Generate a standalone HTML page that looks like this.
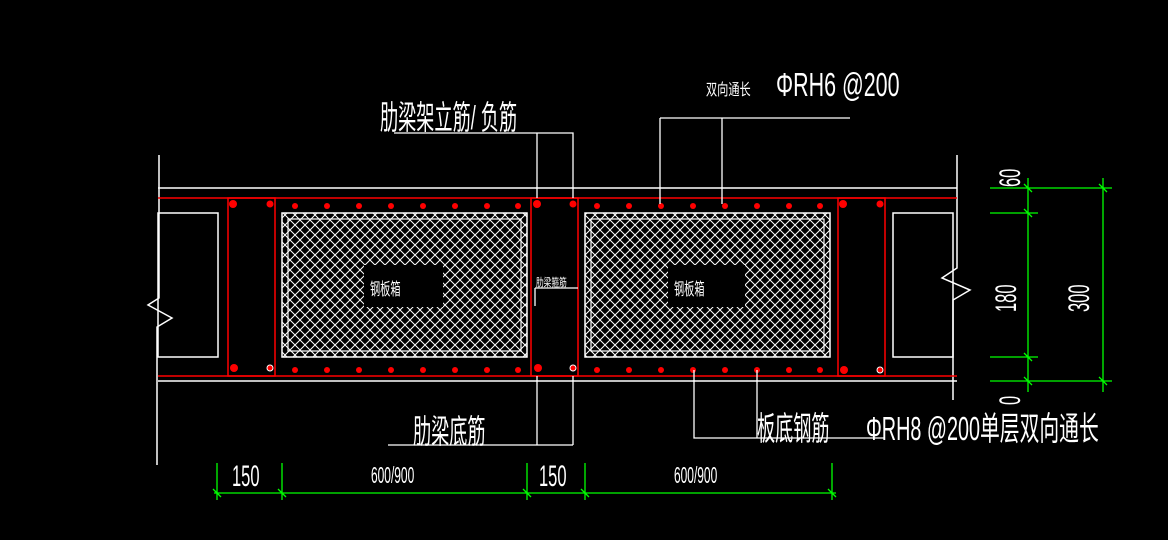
<!DOCTYPE html>
<html><head><meta charset="utf-8"><style>
html,body{margin:0;padding:0;background:#000;}
svg{display:block}
text{font-family:"Liberation Sans","Noto Sans CJK SC",sans-serif;fill:#fff;}
</style></head><body>
<svg width="1168" height="540" viewBox="0 0 1168 540" xmlns="http://www.w3.org/2000/svg">
<defs>
<pattern id="hx" width="10" height="10" patternUnits="userSpaceOnUse">
<path d="M0 0L10 10M10 0L0 10" stroke="#fff" stroke-width="1"/>
</pattern>
</defs>
<rect width="1168" height="540" fill="#000"/>
<g stroke="#fff" stroke-width="1.5" fill="none">
<line x1="158" y1="188" x2="957" y2="188"/>
<line x1="158" y1="381" x2="957" y2="381"/>
<path d="M159 155 V298 L148 305 L172 318 L157 327 V465"/>
<path d="M957 155 V268 L942 278 L970 290 L953 300 V400"/>
<rect x="158" y="213" width="60" height="144"/>
<rect x="893" y="213" width="60" height="144"/>
</g>
<g stroke="#f00" stroke-width="1.5" fill="none">
<line x1="158" y1="198" x2="957" y2="198"/>
<line x1="158" y1="376" x2="957" y2="376"/>
<rect x="228" y="198" width="47" height="178"/>
<rect x="531" y="198" width="47" height="178"/>
<rect x="838" y="198" width="47" height="178"/>
</g>
<g>
<rect x="282" y="213" width="245" height="144" fill="url(#hx)" stroke="#fff" stroke-width="1.5"/>
<rect x="288" y="219" width="233" height="132" fill="none" stroke="#fff" stroke-width="1.2"/>
<rect x="364" y="265" width="79" height="42" fill="#000"/>
<rect x="585" y="213" width="245" height="144" fill="url(#hx)" stroke="#fff" stroke-width="1.5"/>
<rect x="591" y="219" width="233" height="132" fill="none" stroke="#fff" stroke-width="1.2"/>
<rect x="668" y="265" width="77" height="42" fill="#000"/>
<text x="370" y="295" font-size="17" transform="translate(370 0) scale(0.6 1) translate(-370 0)">钢板箱</text>
<text x="674" y="295" font-size="17" transform="translate(674 0) scale(0.6 1) translate(-674 0)">钢板箱</text>
</g>
<g fill="#f00">
<circle cx="233" cy="204" r="4"/><circle cx="270" cy="204" r="3.5"/>
<circle cx="234" cy="368" r="4"/><circle cx="270" cy="368" r="3" stroke="#fff" stroke-width="1"/>
<circle cx="537" cy="204" r="4"/><circle cx="573" cy="204" r="3.5"/>
<circle cx="538" cy="368" r="4"/><circle cx="573" cy="368" r="3" stroke="#fff" stroke-width="1"/>
<circle cx="843" cy="204" r="4"/><circle cx="880" cy="204" r="3.5"/>
<circle cx="844" cy="370" r="4"/><circle cx="880" cy="370" r="3" stroke="#fff" stroke-width="1"/>
<circle cx="295" cy="206" r="3"/><circle cx="327" cy="206" r="3"/><circle cx="359" cy="206" r="3"/><circle cx="391" cy="206" r="3"/><circle cx="423" cy="206" r="3"/><circle cx="455" cy="206" r="3"/><circle cx="487" cy="206" r="3"/><circle cx="518" cy="206" r="3"/>
<circle cx="295" cy="370" r="3"/><circle cx="327" cy="370" r="3"/><circle cx="359" cy="370" r="3"/><circle cx="391" cy="370" r="3"/><circle cx="423" cy="370" r="3"/><circle cx="455" cy="370" r="3"/><circle cx="487" cy="370" r="3"/><circle cx="518" cy="370" r="3"/>
<circle cx="597" cy="206" r="3"/><circle cx="629" cy="206" r="3"/><circle cx="661" cy="206" r="3"/><circle cx="693" cy="206" r="3"/><circle cx="725" cy="206" r="3"/><circle cx="757" cy="206" r="3"/><circle cx="789" cy="206" r="3"/><circle cx="820" cy="206" r="3"/>
<circle cx="597" cy="370" r="3"/><circle cx="629" cy="370" r="3"/><circle cx="661" cy="370" r="3"/><circle cx="693" cy="370" r="3"/><circle cx="725" cy="370" r="3"/><circle cx="757" cy="370" r="3"/><circle cx="789" cy="370" r="3"/><circle cx="820" cy="370" r="3"/>
</g>
<g stroke="#fff" stroke-width="1.3" fill="none">
<path d="M394 133 H573 V198 M537 133 V198"/>
<path d="M537 376 V445 M573 376 V445 M388 445 H573"/>
<path d="M660 118 H850 M660 118 V204 M722 118 V204"/>
<path d="M694 370 V438 H885 M757 370 V438"/>
<path d="M535 288 H578 M535 288 V306"/>
</g>
<text x="536" y="286" font-size="11" transform="translate(536 0) scale(0.7 1) translate(-536 0)">肋梁箍筋</text>
<g font-size="33">
<text x="380" y="129" transform="translate(380 0) scale(0.55 1) translate(-380 0)">肋梁架立筋/ 负筋</text>
<text x="413" y="443" transform="translate(413 0) scale(0.55 1) translate(-413 0)">肋梁底筋</text>
<text x="757" y="440" transform="translate(757 0) scale(0.55 1) translate(-757 0)">板底钢筋</text>
<text x="866" y="440" transform="translate(866 0) scale(0.6 1) translate(-866 0)">ΦRH8 @200单层双向通长</text>
<text x="776" y="96" transform="translate(776 0) scale(0.65 1) translate(-776 0)">ΦRH6 @200</text>
</g>
<text x="706" y="95" font-size="16" transform="translate(706 0) scale(0.7 1) translate(-706 0)">双向通长</text>
<g stroke="#0f0" stroke-width="1.3" fill="none">
<line x1="214" y1="493" x2="836" y2="493"/>
<path d="M217 463V500M282 463V500M527 463V500M585 463V500M832 463V500"/>
<path d="M213 489l8 8M278 489l8 8M523 489l8 8M581 489l8 8M828 489l8 8"/>
<line x1="990" y1="188" x2="1112" y2="188"/>
<line x1="990" y1="213" x2="1038" y2="213"/>
<line x1="990" y1="357" x2="1038" y2="357"/>
<line x1="990" y1="381" x2="1112" y2="381"/>
<line x1="1028" y1="178" x2="1028" y2="392"/>
<line x1="1103" y1="178" x2="1103" y2="392"/>
<path d="M1024 184l8 8M1024 209l8 8M1024 353l8 8M1024 377l8 8M1099 184l8 8M1099 377l8 8"/>
</g>
<g font-size="30">
<text x="232" y="486" transform="translate(232 0) scale(0.55 1) translate(-232 0)">150</text>
<text x="539" y="486" transform="translate(539 0) scale(0.55 1) translate(-539 0)">150</text>
</g>
<g font-size="23">
<text x="371" y="483" transform="translate(371 0) scale(0.52 1) translate(-371 0)">600/900</text>
<text x="674" y="483" transform="translate(674 0) scale(0.52 1) translate(-674 0)">600/900</text>
</g>
<g font-size="30">
<text transform="translate(1020 187) rotate(-90) scale(0.55 1)">60</text>
<text transform="translate(1016 312) rotate(-90) scale(0.55 1)">180</text>
<text transform="translate(1089 312) rotate(-90) scale(0.55 1)">300</text>
<text transform="translate(1020 405) rotate(-90) scale(0.55 1)">0</text>
</g>
</svg>
</body></html>
